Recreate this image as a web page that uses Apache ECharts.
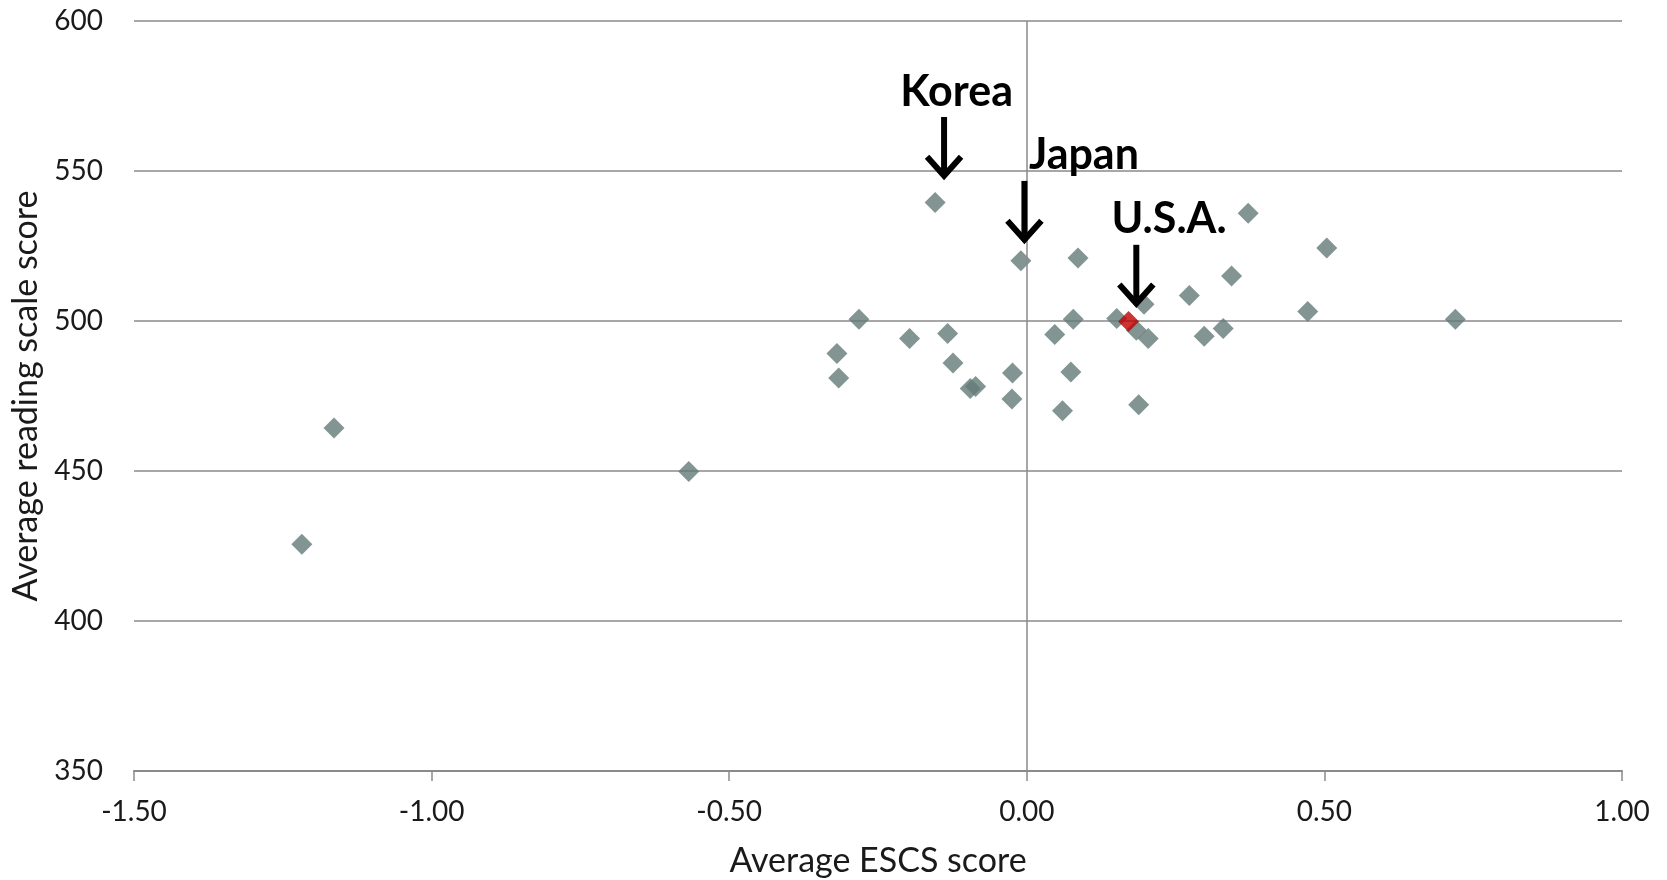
<!DOCTYPE html>
<html>
<head>
<meta charset="utf-8">
<script src="https://cdn.jsdelivr.net/npm/echarts@6/dist/echarts.min.js"></script>
<style>
html,body{margin:0;padding:0;background:#fff;}
#chart{width:1667px;height:880px;}
</style>
</head>
<body>
<div id="chart"></div>
<script>
// Data: average ESCS score (x) and average reading scale score (y)
const escs = [-1.218, -1.164, -0.568, -0.319, -0.316, -0.282, -0.197, -0.154, -0.133, -0.124,
  -0.095, -0.086, -0.024, -0.025, -0.010, 0.047, 0.060, 0.074, 0.078, 0.086,
  0.151, 0.184, 0.197, 0.188, 0.204, 0.273, 0.298, 0.330, 0.344, 0.372,
  0.472, 0.504, 0.720];
const reading = [425.6, 464.3, 449.8, 489.2, 481.0, 500.6, 494.2, 539.5, 495.8, 486.0,
  477.5, 478.2, 482.7, 474.0, 520.1, 495.5, 470.1, 483.0, 500.6, 521.0,
  500.8, 496.9, 505.6, 472.1, 494.2, 508.5, 494.9, 497.5, 515.0, 535.9,
  503.2, 524.3, 500.6];
const usaEscs = [0.171];
const usaReading = [499.8];

// Annotations
const annLabels = ['Korea', 'Japan', 'U.S.A.'];
const annArrowX = [-0.139, -0.004, 0.184];
const annArrowTop = [568.0, 546.7, 525.4];
const annArrowTip = [547.4, 526.1, 504.8];
const annLabelX = [-0.118, 0.096, 0.239];
const annLabelY = [576.2, 555.4, 534.0];

// Axis ticks
const xMin = -1.5, xMax = 1.0, xStep = 0.5;
const yMin = 350, yMax = 600, yStep = 50;

const FONT = 'Lato, "Open Sans", sans-serif';
const GRID_COLOR = '#8a8a8a';

const points = escs.map((x, i) => [x, reading[i]]);
const usaPoints = usaEscs.map((x, i) => [x, usaReading[i]]);
const annData = annLabels.map((l, i) => [annArrowX[i], annArrowTop[i], annArrowTip[i], annLabelX[i], annLabelY[i]]);

const chart = echarts.init(document.getElementById('chart'), null, {renderer: 'canvas'});
chart.setOption({
  animation: false,
  backgroundColor: '#ffffff',
  grid: {left: 134, right: 45, top: 21, bottom: 109, containLabel: false, outerBoundsMode: 'none'},
  xAxis: {
    type: 'value', min: xMin, max: xMax, interval: xStep,
    name: 'Average ESCS score', nameLocation: 'middle', nameGap: 73,
    nameTextStyle: {fontFamily: FONT, fontSize: 34, color: '#1a1a1a'},
    axisLine: {show: true, onZero: false, lineStyle: {color: GRID_COLOR, width: 2}},
    axisTick: {show: true, length: 10, lineStyle: {color: GRID_COLOR, width: 1.5}},
    axisLabel: {fontFamily: FONT, fontSize: 28, color: '#1a1a1a', margin: 27,
      formatter: v => v.toFixed(2)},
    splitLine: {show: false}
  },
  yAxis: {
    type: 'value', min: yMin, max: yMax, interval: yStep,
    name: 'Average reading scale score', nameLocation: 'middle', nameGap: 89,
    nameTextStyle: {fontFamily: FONT, fontSize: 34, color: '#1a1a1a'},
    axisLine: {show: false},
    axisTick: {show: false},
    axisLabel: {fontFamily: FONT, fontSize: 28, color: '#1a1a1a', margin: 31},
    splitLine: {show: true, lineStyle: {color: GRID_COLOR, width: 1.5}}
  },
  series: [
    {
      type: 'scatter', data: points, symbol: 'diamond', symbolSize: 21,
      itemStyle: {color: '#637a77'}, z: 3,
      markLine: {
        silent: true, symbol: ['none', 'none'], label: {show: false},
        lineStyle: {color: GRID_COLOR, width: 1.5, type: 'solid'},
        data: [{xAxis: 0}]
      }
    },
    {
      type: 'scatter', data: usaPoints, symbol: 'diamond', symbolSize: 21,
      itemStyle: {color: '#c00000'}, z: 4
    },
    {
      type: 'custom', data: annData, z: 5, clip: false,
      renderItem: function (params, api) {
        const i = params.dataIndex;
        const top = api.coord([api.value(0), api.value(1)]);
        const tip = api.coord([api.value(0), api.value(2)]);
        const lab = api.coord([api.value(3), api.value(4)]);
        return {
          type: 'group',
          children: [
            {type: 'line', shape: {x1: top[0], y1: top[1], x2: tip[0], y2: tip[1] - 4},
              style: {stroke: '#000', lineWidth: 6}},
            {type: 'polyline', shape: {points: [[tip[0] - 17, tip[1] - 22], [tip[0], tip[1] - 3], [tip[0] + 17, tip[1] - 22]]},
              style: {stroke: '#000', lineWidth: 6, fill: null, lineJoin: 'miter'}},
            {type: 'text', x: lab[0], y: lab[1],
              style: {text: annLabels[i], fontFamily: FONT, fontWeight: 'bold', fontSize: 43,
                fill: '#000', textAlign: 'center', textVerticalAlign: 'middle'}}
          ]
        };
      }
    }
  ]
});
</script>
</body>
</html>
